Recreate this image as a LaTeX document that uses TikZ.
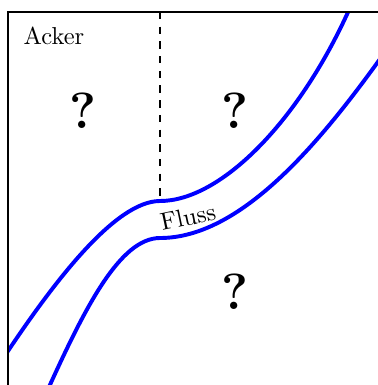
\documentclass[tikz,border=0pt]{standalone}
\usepackage{amsmath}
\usepackage{tikz}

\begin{document}
\begin{tikzpicture}[scale = 1.435, y = -1cm]
	\useasboundingbox (0,0) rectangle (3.78,3.85);
	\begin{scope}
	\clip (0.08,0.12) rectangle (3.78,3.85);
	\draw [blue, line width = 1.6pt] (0.06,3.54) .. controls (0.53,2.835) and (1.15,2.01) .. (1.60,2.01) .. controls (2.20,2.01) and (2.98,1.23) .. (3.49,0.10);
	\draw [blue, line width = 1.6pt] (0.49,3.87) .. controls (0.85,3.08) and (1.20,2.38) .. (1.60,2.38) .. controls (2.40,2.38) and (3.18,1.45) .. (3.80,0.59);
	\end{scope}
	\draw [semithick] (0.08,3.85) -- (0.08,0.12) -- (3.78,0.12);
	\draw [thick, dashed] (1.60,0.12) -- (1.60,1.99);
	\node (acker) at (0.54,0.355) {Acker};
	\node (fluss) [rotate = 12] at (1.88,2.17) {Fluss};
	\node (q1) at (0.83,1.11) {\huge\bfseries ?};
	\node (q2) at (2.35,1.11) {\huge\bfseries ?};
	\node (q3) at (2.35,2.92) {\huge\bfseries ?};
\end{tikzpicture}
\end{document}
